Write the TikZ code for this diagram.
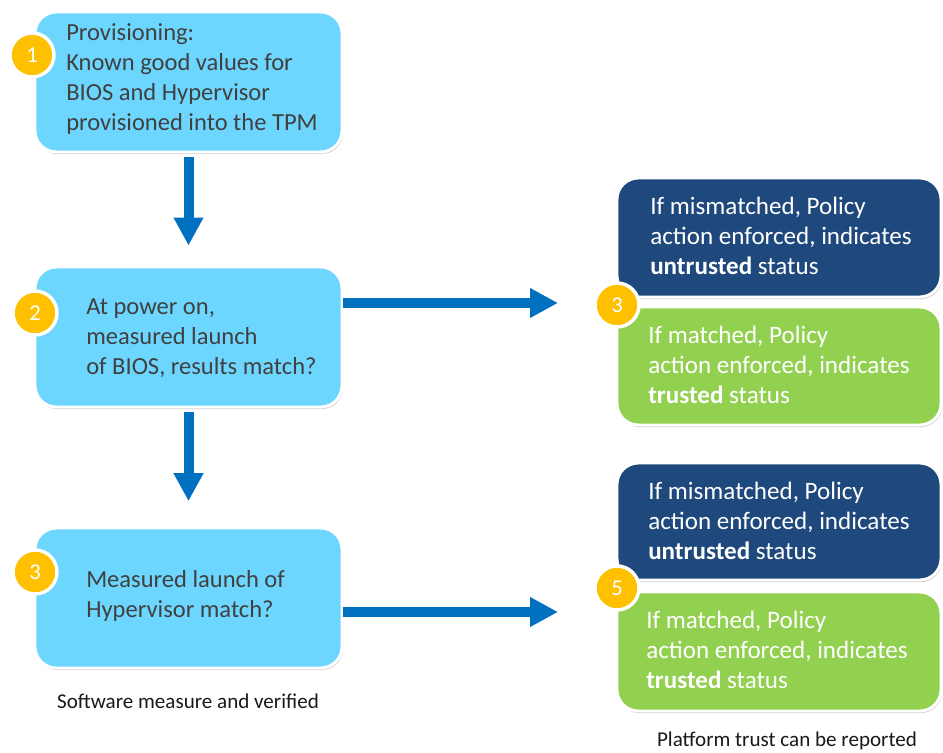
\documentclass[tikz,border=0pt]{standalone}
\usepackage{fontspec}
\setmainfont{Carlito}
\usetikzlibrary{arrows.meta,shadows,fit}

\definecolor{stepblue}{RGB}{109,214,254}
\definecolor{navy}{RGB}{31,73,125}
\definecolor{leaf}{RGB}{146,208,80}
\definecolor{amber}{RGB}{255,192,0}
\definecolor{arrowblue}{RGB}{0,112,192}
\definecolor{inktext}{RGB}{64,64,64}

\tikzset{
  card/.style={rectangle, rounded corners=16pt, draw=white, line width=2.2pt,
    inner sep=0pt,
    drop shadow={opacity=0.35, shadow xshift=0.8pt, shadow yshift=-1.6pt}},
  stepcard/.style={card, fill=stepblue},
  failcard/.style={card, fill=navy},
  passcard/.style={card, fill=leaf},
  badge/.style={circle, fill=amber, draw=white, line width=2.6pt,
    minimum size=33pt, inner sep=0pt, text=white,
    font=\fontsize{17}{17}\selectfont,
    drop shadow={opacity=0.35, shadow xshift=0.8pt, shadow yshift=-1.2pt}},
  steptext/.style={anchor=west, align=left, inner sep=0pt, text=inktext,
    font=\fontsize{18.4}{22.4}\selectfont},
  outtext/.style={anchor=west, align=left, inner sep=0pt, text=white,
    font=\fontsize{18.8}{22.6}\selectfont},
  caption/.style={inner sep=0pt, text=black!90,
    font=\fontsize{15.8}{16}\selectfont},
  arr/.style={draw=arrowblue, line width=7.5pt,
    -{Triangle[width=21pt,length=21pt]}},
}

\begin{document}
\begin{tikzpicture}[x=0.75pt,y=-0.75pt]
  \useasboundingbox (0,0) rectangle (943,753);

  % corner points of the cards
  \coordinate (p1a) at (35,12);   \coordinate (p1b) at (342,152);
  \coordinate (p2a) at (35,267);  \coordinate (p2b) at (342,407);
  \coordinate (p3a) at (35,528);  \coordinate (p3b) at (342,668);
  \coordinate (f1a) at (617,178); \coordinate (f1b) at (941,297);
  \coordinate (g1a) at (617,307); \coordinate (g1b) at (941,425);
  \coordinate (f2a) at (617,463); \coordinate (f2b) at (941,580);
  \coordinate (g2a) at (617,592); \coordinate (g2b) at (941,711);

  % left column: the three steps
  \node[stepcard, fit=(p1a)(p1b)] (step1) {};
  \node[stepcard, fit=(p2a)(p2b)] (step2) {};
  \node[stepcard, fit=(p3a)(p3b)] (step3) {};

  \node[steptext] (t1) at (66,79) {Provisioning:\\Known good values for\\BIOS and Hypervisor\\provisioned into the TPM};
  \node[steptext] (t2) at (86,338) {At power on,\\measured launch\\of BIOS, results match?};
  \node[steptext] (t3) at (86,596) {Measured launch of\\Hypervisor match?};

  % right column: policy outcomes
  \node[failcard, fit=(f1a)(f1b)] (fail1) {};
  \node[passcard, fit=(g1a)(g1b)] (pass1) {};
  \node[failcard, fit=(f2a)(f2b)] (fail2) {};
  \node[passcard, fit=(g2a)(g2b)] (pass2) {};

  \node[outtext] (o1) at (650,236) {If mismatched, Policy\\action enforced, indicates\\\textbf{untrusted} status};
  \node[outtext] (o2) at (648,365) {If matched, Policy\\action enforced, indicates\\\textbf{trusted} status};
  \node[outtext] (o3) at (648,521) {If mismatched, Policy\\action enforced, indicates\\\textbf{untrusted} status};
  \node[outtext] (o4) at (646,650) {If matched, Policy\\action enforced, indicates\\\textbf{trusted} status};

  % numbered badges
  \node[badge] (b1) at (32,55) {1};
  \node[badge] (b2) at (35,313) {2};
  \node[badge] (b3) at (35,572) {3};
  \node[badge] (b4) at (617,305) {3};
  \node[badge] (b5) at (617,588) {5};

  % connectors
  \coordinate (e1) at (558,303);
  \coordinate (e2) at (558,612);
  \draw[arr, shorten <=3pt, shorten >=15pt] (step1.south) -- (step2.north);
  \draw[arr, shorten <=3pt, shorten >=19pt] (step2.south) -- (step3.north);
  \draw[arr] (step2.east |- e1) -- (e1);
  \draw[arr] (step3.east |- e2) -- (e2);

  % captions
  \node[caption] (c1) at (188,701) {Software measure and verified};
  \node[caption] (c2) at (787,741) {Platform trust can be reported};
\end{tikzpicture}
\end{document}
